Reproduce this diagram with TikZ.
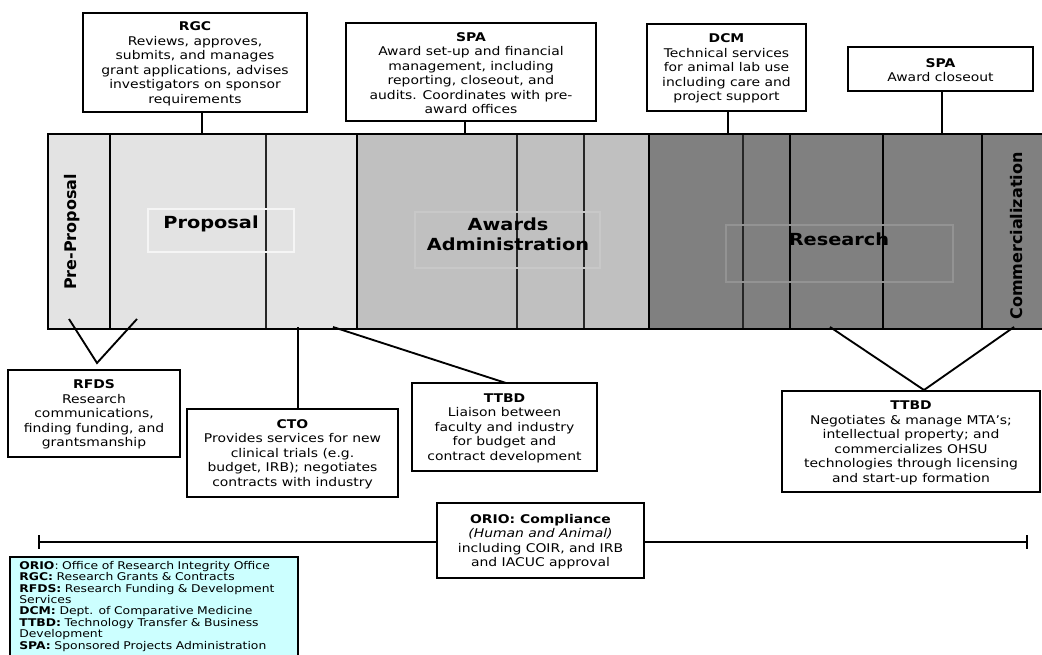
\documentclass[tikz,border=0pt]{standalone}
\usepackage{fontspec}
\setmainfont{DejaVu Sans}[FakeStretch=1.16]
\newfontfamily\sidefont{DejaVu Sans}
\usepackage{xcolor}
\definecolor{proposalgray}{HTML}{E3E3E3}
\definecolor{awardgray}{HTML}{C0C0C0}
\definecolor{researchgray}{HTML}{808080}
\definecolor{legendcyan}{HTML}{CCFFFF}
\usetikzlibrary{arrows.meta, positioning}
\newcommand{\officehead}[1]{\rule{0pt}{8.5pt}\textbf{#1}}

\begin{document}
\begin{tikzpicture}[
  x=0.75pt, y=-0.75pt,
  office/.style={rectangle, draw, line width=1.5pt, fill=white, inner sep=0pt,
    align=center, font=\fontsize{9}{10.9}\selectfont},
  phase/.style={font=\bfseries\fontsize{12.5}{15}\selectfont, align=center},
  sidephase/.style={font=\sidefont\bfseries\fontsize{12}{15}\selectfont, rotate=90},
  link/.style={line width=1.4pt},
  thindiv/.style={line width=0.9pt, black!85},
  middiv/.style={line width=1.4pt},
  thickdiv/.style={line width=2pt},
  ghost/.style={line width=1pt}
]
\useasboundingbox (0,0) rectangle (1042,654);

% the band of phases
\fill[proposalgray] (48,134) rectangle (357,329);
\fill[awardgray] (357,134) rectangle (649,329);
\fill[researchgray] (649,134) rectangle (1050,329);

\foreach \x in {266,517,584,743} \draw[thindiv] (\x,134) -- (\x,329);
\foreach \x in {790,883} \draw[middiv] (\x,134) -- (\x,329);
\foreach \x in {110,357,649,982} \draw[thickdiv] (\x,134) -- (\x,329);

\draw[ghost, white!96!black] (148,209) rectangle (294,252);
\draw[ghost, awardgray!88!white] (415,212) rectangle (600,268);
\draw[ghost, researchgray!85!white] (726,225) rectangle (953,282);

\draw[line width=2.2pt] (48,134) rectangle (1050,329);

\node[sidephase] (preprop) at (72,232) {Pre-Proposal};
\node[phase] (proposal) at (211,224) {Proposal};
\node[phase] (awards) at (508,234) {Awards\\Administration};
\node[phase] (research) at (839,239) {Research};
\node[sidephase] (commerce) at (1017,236) {Commercialization};

% offices above the band
\node[office, minimum width=168pt, minimum height=74.25pt] (rgc) at (195,62.5)
  {\officehead{RGC}\\Reviews, approves,\\submits, and manages\\grant applications, advises\\investigators on sponsor\\requirements};
\node[office, minimum width=187.5pt, minimum height=73.5pt] (spaset) at (471,72)
  {\officehead{SPA}\\Award set-up and financial\\management, including\\reporting, closeout, and\\audits. Coordinates with pre-\\award offices};
\node[office, minimum width=119.25pt, minimum height=65.25pt] (dcm) at (726.5,67.5)
  {\officehead{DCM}\\Technical services\\for animal lab use\\including care and\\project support};
\node[office, minimum width=138.75pt, minimum height=33pt] (spaclose) at (940.5,69)
  {\officehead{SPA}\\Award closeout};

\coordinate (rgcfoot) at (202,134);
\coordinate (spafoot) at (465,134);
\coordinate (dcmfoot) at (728,134);
\coordinate (closefoot) at (942,134);
\draw[link] (rgc.south -| rgcfoot) -- (rgcfoot);
\draw[link] (spaset.south -| spafoot) -- (spafoot);
\draw[link] (dcm.south -| dcmfoot) -- (dcmfoot);
\draw[link] (spaclose.south -| closefoot) -- (closefoot);

% offices below the band
\node[office, minimum width=129pt, minimum height=65.25pt] (rfds) at (94,413.5)
  {\officehead{RFDS}\\Research\\communications,\\finding funding, and\\grantsmanship};
\node[office, minimum width=158.25pt, minimum height=66pt] (cto) at (292.5,453)
  {\officehead{CTO}\\Provides services for new\\clinical trials (e.g.\\budget, IRB); negotiates\\contracts with industry};
\node[office, minimum width=138.75pt, minimum height=66pt] (ttbdliaison) at (504.5,427)
  {\officehead{TTBD}\\Liaison between\\faculty and industry\\for budget and\\contract development};
\node[office, minimum width=193.5pt, minimum height=75.75pt] (ttbdtech) at (911,441.5)
  {\officehead{TTBD}\\Negotiates \& manage MTA’s;\\intellectual property; and\\commercializes OHSU\\technologies through licensing\\and start-up formation};

\coordinate (rfdsapex) at (97,363);
\coordinate (rfdsleft) at (69,319);
\coordinate (rfdsright) at (137,319);
\draw[link] (rfdsleft) -- (rfdsapex) -- (rfdsright);

\coordinate (ctofoot) at (298,327);
\draw[link] (ctofoot) -- (ctofoot |- cto.north);

\coordinate (liaisonfoot) at (333,327);
\coordinate (liaisontop) at (506,383);
\draw[link] (liaisonfoot) -- (liaisontop);

\coordinate (techleft) at (830,327);
\coordinate (techright) at (1014,327);
\draw[link] (techleft) -- (ttbdtech.north -| 924,0) -- (techright);

% compliance across all phases
\coordinate (oriostart) at (38,542);
\coordinate (orioend) at (1028,542);
\node[office, minimum width=155.25pt, minimum height=56.25pt] (orio) at (540.5,540.5)
  {\officehead{ORIO: Compliance}\\\textit{(Human and Animal)}\\including COIR, and IRB\\and IACUC approval};
\draw[link, {Bar[width=10pt]}-] (oriostart) -- (oriostart -| orio.west);
\draw[link, -{Bar[width=10pt]}] (orioend -| orio.east) -- (orioend);

% legend
\node[draw, line width=1.5pt, fill=legendcyan, anchor=north west, align=left,
  inner xsep=7pt, inner ysep=3pt, text width=202pt,
  font=\fontsize{8}{8.6}\selectfont] (legend) at (9,556)
  {\textbf{ORIO}: Office of Research Integrity Office\\
   \textbf{RGC:} Research Grants \& Contracts\\
   \textbf{RFDS:} Research Funding \& Development\\
   Services\\
   \textbf{DCM:} Dept. of Comparative Medicine\\
   \textbf{TTBD:} Technology Transfer \& Business\\
   Development\\
   \textbf{SPA:} Sponsored Projects Administration};
\end{tikzpicture}
\end{document}
